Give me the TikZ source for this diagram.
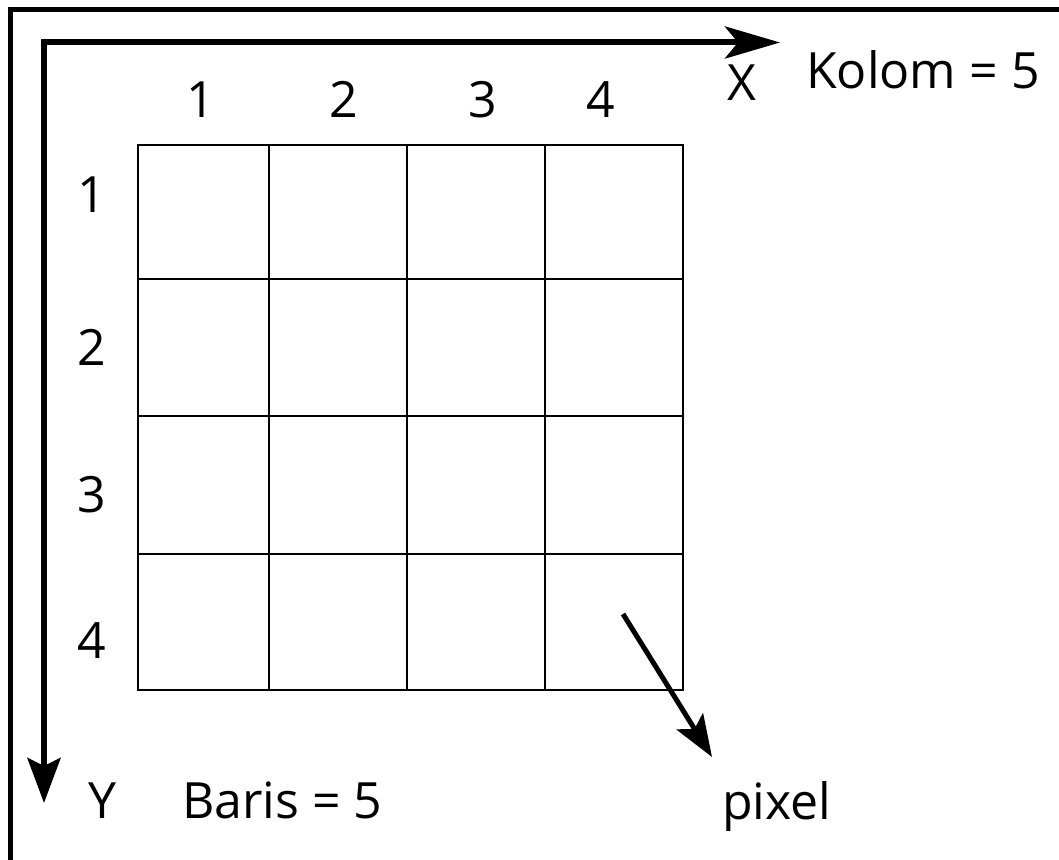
\documentclass[tikz,border=0pt]{standalone}
\usepackage{fontspec}
\setmainfont{Open Sans}
\usetikzlibrary{arrows.meta}
\begin{document}
\begin{tikzpicture}[x=1pt,y=-1pt,
  lbl/.style={anchor=base,inner sep=0pt,font=\fontsize{50}{60}\selectfont},
  axis/.style={line width=6pt},
  gridline/.style={line width=2.6pt},
  frameline/.style={line width=5pt}]
\useasboundingbox (0,0) rectangle (1059,859);
\fill[white] (0,0) rectangle (1059,859);
% outer frame (top and left edges)
\draw[frameline] (10.5,865) -- (10.5,10) -- (1065,10);
% axes
\coordinate (o) at (44,42.5);
\coordinate (xend) at (780,42.5);
\coordinate (yend) at (44,803);
\draw[axis,-{Stealth[length=55pt,width=32pt,inset=13pt]}] ([xshift=-3pt]o) -- (xend);
\draw[axis,-{Stealth[length=45pt,width=33pt,inset=8pt]}] (o) -- (yend);
% 4x4 pixel grid
\draw[gridline] (138,145) rectangle (683,690);
\foreach \x in {269,407,545} \draw[gridline] (\x,145) -- (\x,690);
\foreach \y in {279,416,554} \draw[gridline] (138,\y) -- (683,\y);
% column numbers
\node[lbl] (c1) at (201,117) {1};
\node[lbl] (c2) at (344,117) {2};
\node[lbl] (c3) at (483,117) {3};
\node[lbl] (c4) at (601,117) {4};
% row numbers
\node[lbl] (r1) at (92,212) {1};
\node[lbl] (r2) at (92,365) {2};
\node[lbl] (r3) at (92,512) {3};
\node[lbl] (r4) at (92,658) {4};
% axis captions
\node[lbl] (xl) at (742,100) {X};
\node[lbl,anchor=base west] (kolom) at (806,88) {Kolom = 5};
\node[lbl] (yl) at (103,818) {Y};
\node[lbl,anchor=base west] (baris) at (182,818) {Baris = 5};
\node[lbl,anchor=base west] (pixel) at (722,819) {pixel};
% pointer to a pixel
\coordinate (ps) at (623,614);
\coordinate (pe) at (712,757);
\draw[line width=5pt,-{Stealth[length=42pt,width=31pt,inset=9pt]}] (ps) -- (pe);
\end{tikzpicture}
\end{document}
